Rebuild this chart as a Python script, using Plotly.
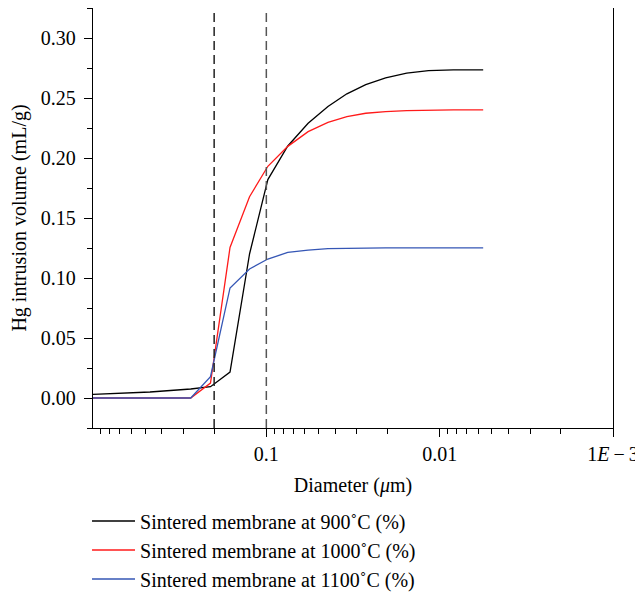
import plotly.graph_objects as go

# Pore diameter (µm)
diameter = [1.0, 0.469, 0.273, 0.21, 0.162, 0.125, 0.098, 0.0752, 0.0574,
            0.0441, 0.0343, 0.0267, 0.0205, 0.0155, 0.0116, 0.00834, 0.00561]

# Cumulative Hg intrusion volume (mL/g)
v900 = [0.0031, 0.0050, 0.0075, 0.0094, 0.0216, 0.120, 0.182, 0.210, 0.229,
        0.243, 0.2535, 0.2612, 0.2668, 0.2708, 0.2728, 0.2735, 0.2735]
v1000 = [0.0, 0.0, 0.0, 0.0124, 0.1254, 0.1677, 0.1931, 0.2097, 0.222,
         0.2296, 0.2345, 0.2373, 0.2387, 0.2395, 0.2399, 0.2401, 0.2401]
v1100 = [0.0, 0.0, 0.0, 0.0177, 0.0917, 0.1075, 0.1158, 0.1213, 0.1233,
         0.1244, 0.1248, 0.1250, 0.1251, 0.1251, 0.1251, 0.1251, 0.1251]

series_names = ["Sintered membrane at 900˚C (%)",
                "Sintered membrane at 1000˚C (%)",
                "Sintered membrane at 1100˚C (%)"]
series_colors = ["#000000", "#ff1a1a", "#3556b5"]

ref_lines = [0.2, 0.1]
ref_colors = ["#222222", "#555555"]

x_tickvals = [0.1, 0.01, 0.001]
x_ticktext = ["0.1", "0.01", "1<i>E</i>\u2009−\u20093"]
x_minor = [m * 10.0 ** k for k in (-3, -2, -1) for m in range(2, 10)]

y_tickvals = [0.0, 0.05, 0.10, 0.15, 0.20, 0.25, 0.30]
y_minor = [-0.025, 0.025, 0.075, 0.125, 0.175, 0.225, 0.275, 0.325]

FONT = "Liberation Serif"

fig = go.Figure()
for vals, name, col in zip([v900, v1000, v1100], series_names, series_colors):
    fig.add_trace(go.Scatter(x=diameter, y=vals, mode="lines", name=name,
                             line=dict(color=col, width=1.3)))

for xv, col in zip(ref_lines, ref_colors):
    fig.add_shape(type="line", xref="x", yref="paper", x0=xv, x1=xv, y0=0, y1=1,
                  line=dict(color=col, width=1.5, dash="9px,5px"))

# the page body adds an 8 px margin, so the figure is sized to fit the window
fig.update_layout(
    width=635, height=587,
    margin=dict(l=85, r=30, t=0, b=167, autoexpand=False),
    paper_bgcolor="white", plot_bgcolor="white",
    font=dict(family=FONT, size=20, color="black"),
    showlegend=True,
    legend=dict(x=-0.0115, xanchor="left", y=-0.175, yanchor="top",
                orientation="v", bgcolor="rgba(0,0,0,0)",
                font=dict(family=FONT, size=20), tracegroupgap=0,
                itemwidth=43),
)

fig.update_xaxes(
    type="log", range=[0, -3], autorange=False, automargin=False,
    showgrid=False, zeroline=False,
    showline=True, linecolor="black", linewidth=1.3, mirror=True,
    ticks="outside", ticklen=8, tickwidth=1.2, tickcolor="black",
    tickmode="array", tickvals=x_tickvals, ticktext=x_ticktext,
    tickfont=dict(family=FONT, size=20), ticklabelstandoff=0,
    minor=dict(tickmode="array", tickvals=x_minor, ticks="outside",
               ticklen=5, tickwidth=1, tickcolor="black", showgrid=False),
    title=dict(text="Diameter (<i>μ</i>m)", font=dict(family=FONT, size=20),
               standoff=13),
)

fig.update_yaxes(
    range=[-0.025, 0.325], autorange=False, automargin=False,
    showgrid=False, zeroline=False,
    showline=True, linecolor="black", linewidth=1.3, mirror=True,
    ticks="outside", ticklen=8, tickwidth=1.2, tickcolor="black",
    tickmode="array", tickvals=y_tickvals, tickformat=".2f",
    tickfont=dict(family=FONT, size=20), ticklabelstandoff=4,
    minor=dict(tickmode="array", tickvals=y_minor, ticks="outside",
               ticklen=5, tickwidth=1, tickcolor="black", showgrid=False),
    title=dict(text="Hg intrusion volume (mL/g)", font=dict(family=FONT, size=20),
               standoff=12),
)

fig.write_html("out.html")
